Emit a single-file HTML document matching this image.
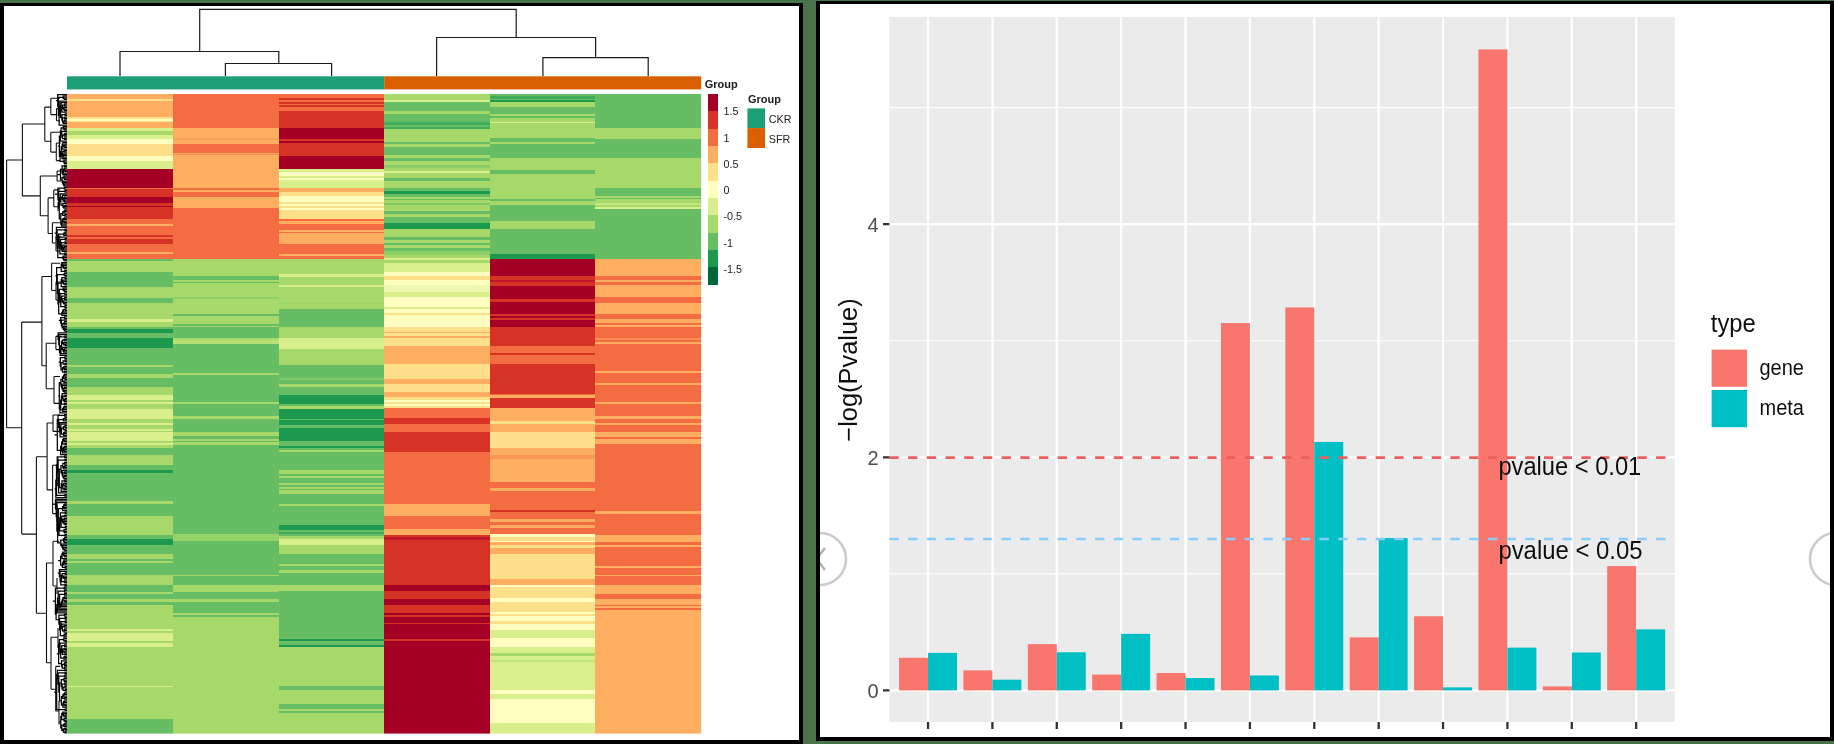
<!DOCTYPE html><html><head><meta charset="utf-8"><title>figure</title><style>html,body{margin:0;padding:0;background:#48734c;overflow:hidden}svg{display:block}text{font-family:"Liberation Sans",sans-serif}</style></head><body>
<svg width="1834" height="744" viewBox="0 0 1834 744">
<rect width="1834" height="744" fill="#48734c"/>
<defs><filter id="bl" filterUnits="userSpaceOnUse" x="-10" y="-10" width="1860" height="770"><feGaussianBlur stdDeviation="0.55"/></filter><clipPath id="lp"><rect x="4" y="6" width="795" height="734"/></clipPath><clipPath id="rp"><rect x="816" y="1" width="1018" height="740"/></clipPath></defs>
<rect x="0" y="3" width="803" height="741" fill="#000"/>
<rect x="4" y="6" width="795" height="734" fill="#fff"/>
<g clip-path="url(#lp)"><g filter="url(#bl)">
<rect x="-4" y="-4" width="812" height="752" fill="#fff"/>
<g fill="none" stroke="#1a1a1a" stroke-width="1.2">
<path d="M199.7 51.5V9.3H516.2V37.5"/>
<path d="M120 76.3V51.5H278.8V63.5"/>
<path d="M225.4 76.3V63.5H331.6V76.3"/>
<path d="M436.6 76.3V37.5H595.6V57.6"/>
<path d="M542.9 76.3V57.6H648.2V76.3"/>
</g>
<rect x="67" y="76.3" width="317.2" height="13.1" fill="#1b9e77"/>
<rect x="384.2" y="76.3" width="317" height="13.1" fill="#d95f02"/>
<g shape-rendering="crispEdges">
<rect x="67.0" y="93.80" width="106.6" height="5.00" fill="#fdae61"/>
<rect x="67.0" y="98.50" width="106.6" height="2.60" fill="#fee08b"/>
<rect x="67.0" y="100.80" width="106.6" height="16.50" fill="#fdae61"/>
<rect x="67.0" y="117.00" width="106.6" height="2.10" fill="#fee08b"/>
<rect x="67.0" y="118.80" width="106.6" height="2.10" fill="#ffffbf"/>
<rect x="67.0" y="120.60" width="106.6" height="2.10" fill="#fee08b"/>
<rect x="67.0" y="122.40" width="106.6" height="6.00" fill="#fdae61"/>
<rect x="67.0" y="128.10" width="106.6" height="2.70" fill="#d9ef8b"/>
<rect x="67.0" y="130.50" width="106.6" height="4.80" fill="#a6d96a"/>
<rect x="67.0" y="135.00" width="106.6" height="3.90" fill="#d9ef8b"/>
<rect x="67.0" y="138.60" width="106.6" height="5.70" fill="#ffffbf"/>
<rect x="67.0" y="144.00" width="106.6" height="12.00" fill="#fee08b"/>
<rect x="67.0" y="155.70" width="106.6" height="5.60" fill="#ffffbf"/>
<rect x="67.0" y="161.00" width="106.6" height="8.30" fill="#d9ef8b"/>
<rect x="67.0" y="169.00" width="106.6" height="18.80" fill="#a50026"/>
<rect x="67.0" y="187.50" width="106.6" height="2.10" fill="#f46d43"/>
<rect x="67.0" y="189.30" width="106.6" height="7.50" fill="#d73027"/>
<rect x="67.0" y="196.50" width="106.6" height="6.60" fill="#a50026"/>
<rect x="67.0" y="202.80" width="106.6" height="3.00" fill="#d73027"/>
<rect x="67.0" y="205.50" width="106.6" height="2.10" fill="#a50026"/>
<rect x="67.0" y="207.30" width="106.6" height="12.00" fill="#d73027"/>
<rect x="67.0" y="219.00" width="106.6" height="4.80" fill="#f46d43"/>
<rect x="67.0" y="223.50" width="106.6" height="3.00" fill="#fdae61"/>
<rect x="67.0" y="226.20" width="106.6" height="9.30" fill="#f46d43"/>
<rect x="67.0" y="235.20" width="106.6" height="2.10" fill="#d73027"/>
<rect x="67.0" y="237.00" width="106.6" height="2.40" fill="#f46d43"/>
<rect x="67.0" y="239.10" width="106.6" height="5.40" fill="#d73027"/>
<rect x="67.0" y="244.20" width="106.6" height="7.80" fill="#f46d43"/>
<rect x="67.0" y="251.70" width="106.6" height="3.00" fill="#fdae61"/>
<rect x="67.0" y="254.40" width="106.6" height="5.20" fill="#f46d43"/>
<rect x="67.0" y="259.30" width="106.6" height="2.30" fill="#66bd63"/>
<rect x="67.0" y="261.30" width="106.6" height="10.50" fill="#a6d96a"/>
<rect x="67.0" y="271.50" width="106.6" height="15.30" fill="#66bd63"/>
<rect x="67.0" y="286.50" width="106.6" height="11.40" fill="#a6d96a"/>
<rect x="67.0" y="297.60" width="106.6" height="5.40" fill="#66bd63"/>
<rect x="67.0" y="302.70" width="106.6" height="17.00" fill="#a6d96a"/>
<rect x="67.0" y="319.40" width="106.6" height="2.90" fill="#d9ef8b"/>
<rect x="67.0" y="322.00" width="106.6" height="5.60" fill="#a6d96a"/>
<rect x="67.0" y="327.30" width="106.6" height="2.10" fill="#66bd63"/>
<rect x="67.0" y="329.10" width="106.6" height="4.50" fill="#1a9850"/>
<rect x="67.0" y="333.30" width="106.6" height="4.80" fill="#66bd63"/>
<rect x="67.0" y="337.80" width="106.6" height="10.50" fill="#1a9850"/>
<rect x="67.0" y="348.00" width="106.6" height="16.80" fill="#66bd63"/>
<rect x="67.0" y="364.50" width="106.6" height="2.60" fill="#a6d96a"/>
<rect x="67.0" y="366.80" width="106.6" height="7.90" fill="#66bd63"/>
<rect x="67.0" y="374.40" width="106.6" height="3.90" fill="#a6d96a"/>
<rect x="67.0" y="378.00" width="106.6" height="9.30" fill="#66bd63"/>
<rect x="67.0" y="387.00" width="106.6" height="7.80" fill="#a6d96a"/>
<rect x="67.0" y="394.50" width="106.6" height="5.40" fill="#d9ef8b"/>
<rect x="67.0" y="399.60" width="106.6" height="2.40" fill="#a6d96a"/>
<rect x="67.0" y="401.70" width="106.6" height="2.60" fill="#d9ef8b"/>
<rect x="67.0" y="404.00" width="106.6" height="4.90" fill="#a6d96a"/>
<rect x="67.0" y="408.60" width="106.6" height="10.70" fill="#d9ef8b"/>
<rect x="67.0" y="419.00" width="106.6" height="4.30" fill="#a6d96a"/>
<rect x="67.0" y="423.00" width="106.6" height="2.40" fill="#d9ef8b"/>
<rect x="67.0" y="425.10" width="106.6" height="3.90" fill="#a6d96a"/>
<rect x="67.0" y="428.70" width="106.6" height="2.60" fill="#d9ef8b"/>
<rect x="67.0" y="431.00" width="106.6" height="1.60" fill="#a6d96a"/>
<rect x="67.0" y="432.30" width="106.6" height="9.00" fill="#d9ef8b"/>
<rect x="67.0" y="441.00" width="106.6" height="2.40" fill="#a6d96a"/>
<rect x="67.0" y="443.10" width="106.6" height="2.20" fill="#d9ef8b"/>
<rect x="67.0" y="445.00" width="106.6" height="3.50" fill="#a6d96a"/>
<rect x="67.0" y="448.20" width="106.6" height="7.50" fill="#66bd63"/>
<rect x="67.0" y="455.40" width="106.6" height="10.20" fill="#a6d96a"/>
<rect x="67.0" y="465.30" width="106.6" height="4.50" fill="#66bd63"/>
<rect x="67.0" y="469.50" width="106.6" height="3.90" fill="#1a9850"/>
<rect x="67.0" y="473.10" width="106.6" height="28.20" fill="#66bd63"/>
<rect x="67.0" y="501.00" width="106.6" height="3.50" fill="#a6d96a"/>
<rect x="67.0" y="504.20" width="106.6" height="12.40" fill="#66bd63"/>
<rect x="67.0" y="516.30" width="106.6" height="19.20" fill="#a6d96a"/>
<rect x="67.0" y="535.20" width="106.6" height="4.20" fill="#66bd63"/>
<rect x="67.0" y="539.10" width="106.6" height="5.70" fill="#1a9850"/>
<rect x="67.0" y="544.50" width="106.6" height="9.30" fill="#66bd63"/>
<rect x="67.0" y="553.50" width="106.6" height="5.40" fill="#a6d96a"/>
<rect x="67.0" y="558.60" width="106.6" height="2.60" fill="#66bd63"/>
<rect x="67.0" y="560.90" width="106.6" height="2.40" fill="#a6d96a"/>
<rect x="67.0" y="563.00" width="106.6" height="12.30" fill="#66bd63"/>
<rect x="67.0" y="575.00" width="106.6" height="10.60" fill="#a6d96a"/>
<rect x="67.0" y="585.30" width="106.6" height="6.60" fill="#66bd63"/>
<rect x="67.0" y="591.60" width="106.6" height="2.70" fill="#a6d96a"/>
<rect x="67.0" y="594.00" width="106.6" height="5.10" fill="#66bd63"/>
<rect x="67.0" y="598.80" width="106.6" height="3.50" fill="#a6d96a"/>
<rect x="67.0" y="602.00" width="106.6" height="3.00" fill="#66bd63"/>
<rect x="67.0" y="604.70" width="106.6" height="24.10" fill="#a6d96a"/>
<rect x="67.0" y="628.50" width="106.6" height="2.60" fill="#d9ef8b"/>
<rect x="67.0" y="630.80" width="106.6" height="2.80" fill="#a6d96a"/>
<rect x="67.0" y="633.30" width="106.6" height="8.00" fill="#d9ef8b"/>
<rect x="67.0" y="641.00" width="106.6" height="1.80" fill="#a6d96a"/>
<rect x="67.0" y="642.50" width="106.6" height="4.80" fill="#d9ef8b"/>
<rect x="67.0" y="647.00" width="106.6" height="39.00" fill="#a6d96a"/>
<rect x="67.0" y="685.70" width="106.6" height="1.90" fill="#d9ef8b"/>
<rect x="67.0" y="687.30" width="106.6" height="32.00" fill="#a6d96a"/>
<rect x="67.0" y="719.00" width="106.6" height="14.90" fill="#66bd63"/>
<rect x="173.3" y="93.80" width="105.8" height="34.30" fill="#f46d43"/>
<rect x="173.3" y="127.80" width="105.8" height="10.70" fill="#fdae61"/>
<rect x="173.3" y="138.20" width="105.8" height="1.60" fill="#f9a05a"/>
<rect x="173.3" y="139.50" width="105.8" height="4.80" fill="#fdae61"/>
<rect x="173.3" y="144.00" width="105.8" height="8.90" fill="#f46d43"/>
<rect x="173.3" y="152.60" width="105.8" height="1.20" fill="#fdae61"/>
<rect x="173.3" y="153.50" width="105.8" height="1.60" fill="#f88d52"/>
<rect x="173.3" y="154.80" width="105.8" height="33.00" fill="#fdae61"/>
<rect x="173.3" y="187.50" width="105.8" height="2.40" fill="#f46d43"/>
<rect x="173.3" y="189.60" width="105.8" height="2.70" fill="#fdae61"/>
<rect x="173.3" y="192.00" width="105.8" height="4.80" fill="#f46d43"/>
<rect x="173.3" y="196.50" width="105.8" height="12.00" fill="#fdae61"/>
<rect x="173.3" y="208.20" width="105.8" height="51.40" fill="#f46d43"/>
<rect x="173.3" y="259.30" width="105.8" height="16.70" fill="#a6d96a"/>
<rect x="173.3" y="275.70" width="105.8" height="4.80" fill="#66bd63"/>
<rect x="173.3" y="280.20" width="105.8" height="1.70" fill="#a6d96a"/>
<rect x="173.3" y="281.60" width="105.8" height="2.10" fill="#66bd63"/>
<rect x="173.3" y="283.40" width="105.8" height="14.20" fill="#a6d96a"/>
<rect x="173.3" y="297.30" width="105.8" height="1.50" fill="#8fcf66"/>
<rect x="173.3" y="298.50" width="105.8" height="15.30" fill="#a6d96a"/>
<rect x="173.3" y="313.50" width="105.8" height="3.00" fill="#66bd63"/>
<rect x="173.3" y="316.20" width="105.8" height="7.80" fill="#a6d96a"/>
<rect x="173.3" y="323.70" width="105.8" height="2.10" fill="#66bd63"/>
<rect x="173.3" y="325.50" width="105.8" height="2.10" fill="#a6d96a"/>
<rect x="173.3" y="327.30" width="105.8" height="11.10" fill="#66bd63"/>
<rect x="173.3" y="338.10" width="105.8" height="1.80" fill="#a6d96a"/>
<rect x="173.3" y="339.60" width="105.8" height="4.20" fill="#b8e077"/>
<rect x="173.3" y="343.50" width="105.8" height="29.80" fill="#66bd63"/>
<rect x="173.3" y="373.00" width="105.8" height="2.60" fill="#a6d96a"/>
<rect x="173.3" y="375.30" width="105.8" height="26.70" fill="#66bd63"/>
<rect x="173.3" y="401.70" width="105.8" height="2.60" fill="#a6d96a"/>
<rect x="173.3" y="404.00" width="105.8" height="12.40" fill="#66bd63"/>
<rect x="173.3" y="416.10" width="105.8" height="3.20" fill="#a6d96a"/>
<rect x="173.3" y="419.00" width="105.8" height="13.30" fill="#66bd63"/>
<rect x="173.3" y="432.00" width="105.8" height="3.90" fill="#a6d96a"/>
<rect x="173.3" y="435.60" width="105.8" height="3.90" fill="#66bd63"/>
<rect x="173.3" y="439.20" width="105.8" height="2.10" fill="#a6d96a"/>
<rect x="173.3" y="441.00" width="105.8" height="1.70" fill="#66bd63"/>
<rect x="173.3" y="442.40" width="105.8" height="2.50" fill="#a6d96a"/>
<rect x="173.3" y="444.60" width="105.8" height="90.00" fill="#66bd63"/>
<rect x="173.3" y="534.30" width="105.8" height="6.60" fill="#95d267"/>
<rect x="173.3" y="540.60" width="105.8" height="34.20" fill="#66bd63"/>
<rect x="173.3" y="574.50" width="105.8" height="2.10" fill="#a6d96a"/>
<rect x="173.3" y="576.30" width="105.8" height="9.30" fill="#66bd63"/>
<rect x="173.3" y="585.30" width="105.8" height="6.60" fill="#a6d96a"/>
<rect x="173.3" y="591.60" width="105.8" height="7.50" fill="#66bd63"/>
<rect x="173.3" y="598.80" width="105.8" height="3.50" fill="#a6d96a"/>
<rect x="173.3" y="602.00" width="105.8" height="11.50" fill="#66bd63"/>
<rect x="173.3" y="613.20" width="105.8" height="2.10" fill="#a6d96a"/>
<rect x="173.3" y="615.00" width="105.8" height="2.10" fill="#66bd63"/>
<rect x="173.3" y="616.80" width="105.8" height="117.10" fill="#a6d96a"/>
<rect x="278.8" y="93.80" width="105.7" height="4.60" fill="#f46d43"/>
<rect x="278.8" y="98.10" width="105.7" height="2.10" fill="#d73027"/>
<rect x="278.8" y="99.90" width="105.7" height="2.10" fill="#f46d43"/>
<rect x="278.8" y="101.70" width="105.7" height="2.10" fill="#d73027"/>
<rect x="278.8" y="103.50" width="105.7" height="2.10" fill="#f46d43"/>
<rect x="278.8" y="105.30" width="105.7" height="2.10" fill="#d73027"/>
<rect x="278.8" y="107.10" width="105.7" height="4.40" fill="#f46d43"/>
<rect x="278.8" y="111.20" width="105.7" height="17.20" fill="#d73027"/>
<rect x="278.8" y="128.10" width="105.7" height="11.10" fill="#a50026"/>
<rect x="278.8" y="138.90" width="105.7" height="2.70" fill="#d73027"/>
<rect x="278.8" y="141.30" width="105.7" height="2.40" fill="#a50026"/>
<rect x="278.8" y="143.40" width="105.7" height="12.60" fill="#d73027"/>
<rect x="278.8" y="155.70" width="105.7" height="13.60" fill="#a50026"/>
<rect x="278.8" y="169.00" width="105.7" height="3.50" fill="#d9ef8b"/>
<rect x="278.8" y="172.20" width="105.7" height="3.90" fill="#ffffbf"/>
<rect x="278.8" y="175.80" width="105.7" height="2.50" fill="#d9ef8b"/>
<rect x="278.8" y="178.00" width="105.7" height="2.60" fill="#ffffbf"/>
<rect x="278.8" y="180.30" width="105.7" height="7.50" fill="#d9ef8b"/>
<rect x="278.8" y="187.50" width="105.7" height="4.80" fill="#fdae61"/>
<rect x="278.8" y="192.00" width="105.7" height="3.90" fill="#fee08b"/>
<rect x="278.8" y="195.60" width="105.7" height="6.60" fill="#ffffbf"/>
<rect x="278.8" y="201.90" width="105.7" height="2.40" fill="#fee08b"/>
<rect x="278.8" y="204.00" width="105.7" height="2.30" fill="#ffffbf"/>
<rect x="278.8" y="206.00" width="105.7" height="2.30" fill="#fee08b"/>
<rect x="278.8" y="208.00" width="105.7" height="2.30" fill="#ffffbf"/>
<rect x="278.8" y="210.00" width="105.7" height="8.90" fill="#fee08b"/>
<rect x="278.8" y="218.60" width="105.7" height="2.50" fill="#f46d43"/>
<rect x="278.8" y="220.80" width="105.7" height="3.00" fill="#fdae61"/>
<rect x="278.8" y="223.50" width="105.7" height="6.60" fill="#f46d43"/>
<rect x="278.8" y="229.80" width="105.7" height="2.10" fill="#fdae61"/>
<rect x="278.8" y="231.60" width="105.7" height="1.70" fill="#f46d43"/>
<rect x="278.8" y="233.00" width="105.7" height="11.50" fill="#fdae61"/>
<rect x="278.8" y="244.20" width="105.7" height="10.50" fill="#f46d43"/>
<rect x="278.8" y="254.40" width="105.7" height="2.30" fill="#fdae61"/>
<rect x="278.8" y="256.40" width="105.7" height="3.20" fill="#f46d43"/>
<rect x="278.8" y="259.30" width="105.7" height="15.40" fill="#a6d96a"/>
<rect x="278.8" y="274.40" width="105.7" height="2.50" fill="#d9ef8b"/>
<rect x="278.8" y="276.60" width="105.7" height="8.90" fill="#a6d96a"/>
<rect x="278.8" y="285.20" width="105.7" height="2.10" fill="#d9ef8b"/>
<rect x="278.8" y="287.00" width="105.7" height="16.00" fill="#a6d96a"/>
<rect x="278.8" y="302.70" width="105.7" height="1.60" fill="#98d468"/>
<rect x="278.8" y="304.00" width="105.7" height="5.30" fill="#a6d96a"/>
<rect x="278.8" y="309.00" width="105.7" height="18.30" fill="#66bd63"/>
<rect x="278.8" y="327.00" width="105.7" height="11.10" fill="#a6d96a"/>
<rect x="278.8" y="337.80" width="105.7" height="11.10" fill="#d9ef8b"/>
<rect x="278.8" y="348.60" width="105.7" height="16.20" fill="#a6d96a"/>
<rect x="278.8" y="364.50" width="105.7" height="13.80" fill="#66bd63"/>
<rect x="278.8" y="378.00" width="105.7" height="2.10" fill="#80c965"/>
<rect x="278.8" y="379.80" width="105.7" height="4.80" fill="#66bd63"/>
<rect x="278.8" y="384.30" width="105.7" height="3.30" fill="#a6d96a"/>
<rect x="278.8" y="387.30" width="105.7" height="7.50" fill="#66bd63"/>
<rect x="278.8" y="394.50" width="105.7" height="9.30" fill="#1a9850"/>
<rect x="278.8" y="403.50" width="105.7" height="3.20" fill="#66bd63"/>
<rect x="278.8" y="406.40" width="105.7" height="2.50" fill="#a6d96a"/>
<rect x="278.8" y="408.60" width="105.7" height="10.20" fill="#1a9850"/>
<rect x="278.8" y="418.50" width="105.7" height="2.10" fill="#66bd63"/>
<rect x="278.8" y="420.30" width="105.7" height="4.80" fill="#1a9850"/>
<rect x="278.8" y="424.80" width="105.7" height="3.00" fill="#66bd63"/>
<rect x="278.8" y="427.50" width="105.7" height="13.80" fill="#1a9850"/>
<rect x="278.8" y="441.00" width="105.7" height="5.30" fill="#66bd63"/>
<rect x="278.8" y="446.00" width="105.7" height="2.50" fill="#1a9850"/>
<rect x="278.8" y="448.20" width="105.7" height="2.10" fill="#66bd63"/>
<rect x="278.8" y="450.00" width="105.7" height="2.10" fill="#a6d96a"/>
<rect x="278.8" y="451.80" width="105.7" height="18.50" fill="#66bd63"/>
<rect x="278.8" y="470.00" width="105.7" height="4.30" fill="#a6d96a"/>
<rect x="278.8" y="474.00" width="105.7" height="2.10" fill="#66bd63"/>
<rect x="278.8" y="475.80" width="105.7" height="2.50" fill="#a6d96a"/>
<rect x="278.8" y="478.00" width="105.7" height="4.90" fill="#66bd63"/>
<rect x="278.8" y="482.60" width="105.7" height="2.50" fill="#a6d96a"/>
<rect x="278.8" y="484.80" width="105.7" height="2.10" fill="#66bd63"/>
<rect x="278.8" y="486.60" width="105.7" height="2.40" fill="#a6d96a"/>
<rect x="278.8" y="488.70" width="105.7" height="1.80" fill="#66bd63"/>
<rect x="278.8" y="490.20" width="105.7" height="3.90" fill="#a6d96a"/>
<rect x="278.8" y="493.80" width="105.7" height="10.20" fill="#66bd63"/>
<rect x="278.8" y="503.70" width="105.7" height="2.60" fill="#a6d96a"/>
<rect x="278.8" y="506.00" width="105.7" height="19.60" fill="#66bd63"/>
<rect x="278.8" y="525.30" width="105.7" height="5.10" fill="#1a9850"/>
<rect x="278.8" y="530.10" width="105.7" height="2.20" fill="#66bd63"/>
<rect x="278.8" y="532.00" width="105.7" height="2.60" fill="#3fab5a"/>
<rect x="278.8" y="534.30" width="105.7" height="2.00" fill="#66bd63"/>
<rect x="278.8" y="536.00" width="105.7" height="3.40" fill="#a6d96a"/>
<rect x="278.8" y="539.10" width="105.7" height="6.20" fill="#d9ef8b"/>
<rect x="278.8" y="545.00" width="105.7" height="8.80" fill="#a6d96a"/>
<rect x="278.8" y="553.50" width="105.7" height="10.40" fill="#66bd63"/>
<rect x="278.8" y="563.60" width="105.7" height="2.80" fill="#a6d96a"/>
<rect x="278.8" y="566.10" width="105.7" height="4.50" fill="#66bd63"/>
<rect x="278.8" y="570.30" width="105.7" height="3.00" fill="#a6d96a"/>
<rect x="278.8" y="573.00" width="105.7" height="12.60" fill="#66bd63"/>
<rect x="278.8" y="585.30" width="105.7" height="6.20" fill="#a6d96a"/>
<rect x="278.8" y="591.20" width="105.7" height="48.00" fill="#66bd63"/>
<rect x="278.8" y="638.90" width="105.7" height="2.40" fill="#1a9850"/>
<rect x="278.8" y="641.00" width="105.7" height="4.00" fill="#66bd63"/>
<rect x="278.8" y="644.70" width="105.7" height="2.60" fill="#1a9850"/>
<rect x="278.8" y="647.00" width="105.7" height="39.30" fill="#a6d96a"/>
<rect x="278.8" y="686.00" width="105.7" height="4.50" fill="#66bd63"/>
<rect x="278.8" y="690.20" width="105.7" height="14.10" fill="#a6d96a"/>
<rect x="278.8" y="704.00" width="105.7" height="5.30" fill="#66bd63"/>
<rect x="278.8" y="709.00" width="105.7" height="2.60" fill="#a6d96a"/>
<rect x="278.8" y="711.30" width="105.7" height="2.00" fill="#66bd63"/>
<rect x="278.8" y="713.00" width="105.7" height="20.90" fill="#a6d96a"/>
<rect x="384.2" y="93.80" width="106.2" height="6.40" fill="#a6d96a"/>
<rect x="384.2" y="99.90" width="106.2" height="2.60" fill="#d9ef8b"/>
<rect x="384.2" y="102.20" width="106.2" height="9.30" fill="#66bd63"/>
<rect x="384.2" y="111.20" width="106.2" height="3.00" fill="#a6d96a"/>
<rect x="384.2" y="113.90" width="106.2" height="7.90" fill="#66bd63"/>
<rect x="384.2" y="121.50" width="106.2" height="3.30" fill="#3fab5a"/>
<rect x="384.2" y="124.50" width="106.2" height="2.70" fill="#66bd63"/>
<rect x="384.2" y="126.90" width="106.2" height="2.60" fill="#3fab5a"/>
<rect x="384.2" y="129.20" width="106.2" height="13.30" fill="#a6d96a"/>
<rect x="384.2" y="142.20" width="106.2" height="2.10" fill="#66bd63"/>
<rect x="384.2" y="144.00" width="106.2" height="3.50" fill="#a6d96a"/>
<rect x="384.2" y="147.20" width="106.2" height="7.90" fill="#66bd63"/>
<rect x="384.2" y="154.80" width="106.2" height="3.00" fill="#a6d96a"/>
<rect x="384.2" y="157.50" width="106.2" height="3.30" fill="#66bd63"/>
<rect x="384.2" y="160.50" width="106.2" height="4.50" fill="#a6d96a"/>
<rect x="384.2" y="164.70" width="106.2" height="3.90" fill="#8ccd66"/>
<rect x="384.2" y="168.30" width="106.2" height="3.00" fill="#a6d96a"/>
<rect x="384.2" y="171.00" width="106.2" height="2.40" fill="#d9ef8b"/>
<rect x="384.2" y="173.10" width="106.2" height="5.40" fill="#a6d96a"/>
<rect x="384.2" y="178.20" width="106.2" height="3.50" fill="#66bd63"/>
<rect x="384.2" y="181.40" width="106.2" height="6.90" fill="#a6d96a"/>
<rect x="384.2" y="188.00" width="106.2" height="3.10" fill="#66bd63"/>
<rect x="384.2" y="190.80" width="106.2" height="3.90" fill="#1a9850"/>
<rect x="384.2" y="194.40" width="106.2" height="2.70" fill="#66bd63"/>
<rect x="384.2" y="196.80" width="106.2" height="2.10" fill="#a6d96a"/>
<rect x="384.2" y="198.60" width="106.2" height="2.10" fill="#66bd63"/>
<rect x="384.2" y="200.40" width="106.2" height="2.90" fill="#a6d96a"/>
<rect x="384.2" y="203.00" width="106.2" height="2.70" fill="#80c965"/>
<rect x="384.2" y="205.40" width="106.2" height="6.10" fill="#a6d96a"/>
<rect x="384.2" y="211.20" width="106.2" height="3.50" fill="#66bd63"/>
<rect x="384.2" y="214.40" width="106.2" height="2.50" fill="#a6d96a"/>
<rect x="384.2" y="216.60" width="106.2" height="6.70" fill="#66bd63"/>
<rect x="384.2" y="223.00" width="106.2" height="6.50" fill="#1a9850"/>
<rect x="384.2" y="229.20" width="106.2" height="8.40" fill="#a6d96a"/>
<rect x="384.2" y="237.30" width="106.2" height="2.60" fill="#66bd63"/>
<rect x="384.2" y="239.60" width="106.2" height="3.40" fill="#a6d96a"/>
<rect x="384.2" y="242.70" width="106.2" height="2.10" fill="#66bd63"/>
<rect x="384.2" y="244.50" width="106.2" height="3.80" fill="#a6d96a"/>
<rect x="384.2" y="248.00" width="106.2" height="3.10" fill="#66bd63"/>
<rect x="384.2" y="250.80" width="106.2" height="4.80" fill="#8ccd66"/>
<rect x="384.2" y="255.30" width="106.2" height="3.00" fill="#a6d96a"/>
<rect x="384.2" y="258.00" width="106.2" height="2.40" fill="#d9ef8b"/>
<rect x="384.2" y="260.10" width="106.2" height="3.60" fill="#a6d96a"/>
<rect x="384.2" y="263.40" width="106.2" height="8.40" fill="#d9ef8b"/>
<rect x="384.2" y="271.50" width="106.2" height="4.80" fill="#ffffbf"/>
<rect x="384.2" y="276.00" width="106.2" height="3.90" fill="#fee08b"/>
<rect x="384.2" y="279.60" width="106.2" height="5.70" fill="#ffffbf"/>
<rect x="384.2" y="285.00" width="106.2" height="7.50" fill="#f0f7b0"/>
<rect x="384.2" y="292.20" width="106.2" height="4.80" fill="#d9ef8b"/>
<rect x="384.2" y="296.70" width="106.2" height="10.80" fill="#ffffbf"/>
<rect x="384.2" y="307.20" width="106.2" height="2.10" fill="#d9ef8b"/>
<rect x="384.2" y="309.00" width="106.2" height="4.30" fill="#ffffbf"/>
<rect x="384.2" y="313.00" width="106.2" height="2.10" fill="#fee08b"/>
<rect x="384.2" y="314.80" width="106.2" height="12.80" fill="#ffffbf"/>
<rect x="384.2" y="327.30" width="106.2" height="4.50" fill="#fee08b"/>
<rect x="384.2" y="331.50" width="106.2" height="2.10" fill="#fdae61"/>
<rect x="384.2" y="333.30" width="106.2" height="3.00" fill="#fee08b"/>
<rect x="384.2" y="336.00" width="106.2" height="2.40" fill="#fdae61"/>
<rect x="384.2" y="338.10" width="106.2" height="8.60" fill="#fee08b"/>
<rect x="384.2" y="346.40" width="106.2" height="18.30" fill="#fdae61"/>
<rect x="384.2" y="364.40" width="106.2" height="15.10" fill="#fee08b"/>
<rect x="384.2" y="379.20" width="106.2" height="5.30" fill="#fdae61"/>
<rect x="384.2" y="384.20" width="106.2" height="7.90" fill="#fee08b"/>
<rect x="384.2" y="391.80" width="106.2" height="5.70" fill="#fdae61"/>
<rect x="384.2" y="397.20" width="106.2" height="3.10" fill="#fee08b"/>
<rect x="384.2" y="400.00" width="106.2" height="2.00" fill="#ffffbf"/>
<rect x="384.2" y="401.70" width="106.2" height="3.00" fill="#fee08b"/>
<rect x="384.2" y="404.40" width="106.2" height="1.90" fill="#ffffbf"/>
<rect x="384.2" y="406.00" width="106.2" height="2.50" fill="#fee08b"/>
<rect x="384.2" y="408.20" width="106.2" height="10.10" fill="#f46d43"/>
<rect x="384.2" y="418.00" width="106.2" height="6.70" fill="#d73027"/>
<rect x="384.2" y="424.40" width="106.2" height="7.90" fill="#f46d43"/>
<rect x="384.2" y="432.00" width="106.2" height="20.40" fill="#d73027"/>
<rect x="384.2" y="452.10" width="106.2" height="51.80" fill="#f46d43"/>
<rect x="384.2" y="503.60" width="106.2" height="13.00" fill="#fdae61"/>
<rect x="384.2" y="516.30" width="106.2" height="12.90" fill="#f46d43"/>
<rect x="384.2" y="528.90" width="106.2" height="6.20" fill="#fdae61"/>
<rect x="384.2" y="534.80" width="106.2" height="2.50" fill="#d73027"/>
<rect x="384.2" y="537.00" width="106.2" height="3.00" fill="#c0182a"/>
<rect x="384.2" y="539.70" width="106.2" height="45.80" fill="#d73027"/>
<rect x="384.2" y="585.20" width="106.2" height="6.10" fill="#a50026"/>
<rect x="384.2" y="591.00" width="106.2" height="7.80" fill="#d73027"/>
<rect x="384.2" y="598.50" width="106.2" height="6.30" fill="#a50026"/>
<rect x="384.2" y="604.50" width="106.2" height="8.40" fill="#d73027"/>
<rect x="384.2" y="612.60" width="106.2" height="2.40" fill="#a50026"/>
<rect x="384.2" y="614.70" width="106.2" height="2.10" fill="#d73027"/>
<rect x="384.2" y="616.50" width="106.2" height="6.60" fill="#a50026"/>
<rect x="384.2" y="622.80" width="106.2" height="1.70" fill="#d73027"/>
<rect x="384.2" y="624.20" width="106.2" height="15.10" fill="#a50026"/>
<rect x="384.2" y="639.00" width="106.2" height="2.10" fill="#d73027"/>
<rect x="384.2" y="640.80" width="106.2" height="93.10" fill="#a50026"/>
<rect x="490.1" y="93.80" width="105.4" height="2.80" fill="#66bd63"/>
<rect x="490.1" y="96.30" width="105.4" height="2.60" fill="#3fab5a"/>
<rect x="490.1" y="98.60" width="105.4" height="1.60" fill="#66bd63"/>
<rect x="490.1" y="99.90" width="105.4" height="2.60" fill="#1a9850"/>
<rect x="490.1" y="102.20" width="105.4" height="4.70" fill="#a6d96a"/>
<rect x="490.1" y="106.60" width="105.4" height="7.60" fill="#66bd63"/>
<rect x="490.1" y="113.90" width="105.4" height="2.40" fill="#a6d96a"/>
<rect x="490.1" y="116.00" width="105.4" height="2.20" fill="#66bd63"/>
<rect x="490.1" y="117.90" width="105.4" height="3.90" fill="#a6d96a"/>
<rect x="490.1" y="121.50" width="105.4" height="2.10" fill="#d9ef8b"/>
<rect x="490.1" y="123.30" width="105.4" height="14.70" fill="#a6d96a"/>
<rect x="490.1" y="137.70" width="105.4" height="4.80" fill="#66bd63"/>
<rect x="490.1" y="142.20" width="105.4" height="2.10" fill="#a6d96a"/>
<rect x="490.1" y="144.00" width="105.4" height="13.80" fill="#66bd63"/>
<rect x="490.1" y="157.50" width="105.4" height="12.30" fill="#a6d96a"/>
<rect x="490.1" y="169.50" width="105.4" height="5.00" fill="#66bd63"/>
<rect x="490.1" y="174.20" width="105.4" height="25.40" fill="#a6d96a"/>
<rect x="490.1" y="199.30" width="105.4" height="2.30" fill="#66bd63"/>
<rect x="490.1" y="201.30" width="105.4" height="4.40" fill="#a6d96a"/>
<rect x="490.1" y="205.40" width="105.4" height="16.00" fill="#66bd63"/>
<rect x="490.1" y="221.10" width="105.4" height="8.40" fill="#a6d96a"/>
<rect x="490.1" y="229.20" width="105.4" height="25.50" fill="#66bd63"/>
<rect x="490.1" y="254.40" width="105.4" height="5.30" fill="#1a9850"/>
<rect x="490.1" y="259.40" width="105.4" height="16.90" fill="#a50026"/>
<rect x="490.1" y="276.00" width="105.4" height="4.30" fill="#d73027"/>
<rect x="490.1" y="280.00" width="105.4" height="2.60" fill="#c0182a"/>
<rect x="490.1" y="282.30" width="105.4" height="3.50" fill="#d73027"/>
<rect x="490.1" y="285.50" width="105.4" height="14.20" fill="#a50026"/>
<rect x="490.1" y="299.40" width="105.4" height="2.70" fill="#d73027"/>
<rect x="490.1" y="301.80" width="105.4" height="12.00" fill="#a50026"/>
<rect x="490.1" y="313.50" width="105.4" height="2.60" fill="#d73027"/>
<rect x="490.1" y="315.80" width="105.4" height="2.50" fill="#a50026"/>
<rect x="490.1" y="318.00" width="105.4" height="2.50" fill="#d73027"/>
<rect x="490.1" y="320.20" width="105.4" height="7.10" fill="#a50026"/>
<rect x="490.1" y="327.00" width="105.4" height="19.70" fill="#d73027"/>
<rect x="490.1" y="346.40" width="105.4" height="6.90" fill="#f46d43"/>
<rect x="490.1" y="353.00" width="105.4" height="2.70" fill="#d73027"/>
<rect x="490.1" y="355.40" width="105.4" height="9.30" fill="#f46d43"/>
<rect x="490.1" y="364.40" width="105.4" height="29.90" fill="#d73027"/>
<rect x="490.1" y="394.00" width="105.4" height="1.70" fill="#f46d43"/>
<rect x="490.1" y="395.40" width="105.4" height="2.40" fill="#fdae61"/>
<rect x="490.1" y="397.50" width="105.4" height="11.00" fill="#d73027"/>
<rect x="490.1" y="408.20" width="105.4" height="13.30" fill="#fdae61"/>
<rect x="490.1" y="421.20" width="105.4" height="3.00" fill="#fee08b"/>
<rect x="490.1" y="423.90" width="105.4" height="8.40" fill="#fdae61"/>
<rect x="490.1" y="432.00" width="105.4" height="16.10" fill="#fee08b"/>
<rect x="490.1" y="447.80" width="105.4" height="7.50" fill="#fdae61"/>
<rect x="490.1" y="455.00" width="105.4" height="3.90" fill="#f99858"/>
<rect x="490.1" y="458.60" width="105.4" height="23.20" fill="#fdae61"/>
<rect x="490.1" y="481.50" width="105.4" height="6.90" fill="#f46d43"/>
<rect x="490.1" y="488.10" width="105.4" height="3.20" fill="#fdae61"/>
<rect x="490.1" y="491.00" width="105.4" height="19.00" fill="#f46d43"/>
<rect x="490.1" y="509.70" width="105.4" height="2.60" fill="#d73027"/>
<rect x="490.1" y="512.00" width="105.4" height="7.30" fill="#f46d43"/>
<rect x="490.1" y="519.00" width="105.4" height="3.50" fill="#fdae61"/>
<rect x="490.1" y="522.20" width="105.4" height="3.40" fill="#f46d43"/>
<rect x="490.1" y="525.30" width="105.4" height="2.60" fill="#fdae61"/>
<rect x="490.1" y="527.60" width="105.4" height="7.00" fill="#f46d43"/>
<rect x="490.1" y="534.30" width="105.4" height="2.50" fill="#ffffbf"/>
<rect x="490.1" y="536.50" width="105.4" height="4.40" fill="#fee08b"/>
<rect x="490.1" y="540.60" width="105.4" height="2.10" fill="#ffffbf"/>
<rect x="490.1" y="542.40" width="105.4" height="3.00" fill="#fdae61"/>
<rect x="490.1" y="545.10" width="105.4" height="3.00" fill="#fee08b"/>
<rect x="490.1" y="547.80" width="105.4" height="6.00" fill="#fdae61"/>
<rect x="490.1" y="553.50" width="105.4" height="26.10" fill="#fee08b"/>
<rect x="490.1" y="579.30" width="105.4" height="5.70" fill="#fdae61"/>
<rect x="490.1" y="584.70" width="105.4" height="3.00" fill="#ffffbf"/>
<rect x="490.1" y="587.40" width="105.4" height="11.10" fill="#fee08b"/>
<rect x="490.1" y="598.20" width="105.4" height="3.90" fill="#ffffbf"/>
<rect x="490.1" y="601.80" width="105.4" height="10.50" fill="#fee08b"/>
<rect x="490.1" y="612.00" width="105.4" height="2.10" fill="#ffffbf"/>
<rect x="490.1" y="613.80" width="105.4" height="2.50" fill="#fee08b"/>
<rect x="490.1" y="616.00" width="105.4" height="5.30" fill="#ffffbf"/>
<rect x="490.1" y="621.00" width="105.4" height="3.00" fill="#fee08b"/>
<rect x="490.1" y="623.70" width="105.4" height="6.60" fill="#ffffbf"/>
<rect x="490.1" y="630.00" width="105.4" height="7.80" fill="#d9ef8b"/>
<rect x="490.1" y="637.50" width="105.4" height="9.80" fill="#ffffbf"/>
<rect x="490.1" y="647.00" width="105.4" height="5.80" fill="#d9ef8b"/>
<rect x="490.1" y="652.50" width="105.4" height="3.80" fill="#a6d96a"/>
<rect x="490.1" y="656.00" width="105.4" height="4.00" fill="#d9ef8b"/>
<rect x="490.1" y="659.70" width="105.4" height="2.60" fill="#bfe47a"/>
<rect x="490.1" y="662.00" width="105.4" height="28.60" fill="#d9ef8b"/>
<rect x="490.1" y="690.30" width="105.4" height="3.90" fill="#ffffbf"/>
<rect x="490.1" y="693.90" width="105.4" height="5.70" fill="#d9ef8b"/>
<rect x="490.1" y="699.30" width="105.4" height="24.20" fill="#ffffbf"/>
<rect x="490.1" y="723.20" width="105.4" height="10.70" fill="#d9ef8b"/>
<rect x="595.2" y="93.80" width="106.3" height="34.60" fill="#66bd63"/>
<rect x="595.2" y="128.10" width="106.3" height="11.10" fill="#a6d96a"/>
<rect x="595.2" y="138.90" width="106.3" height="18.90" fill="#66bd63"/>
<rect x="595.2" y="157.50" width="106.3" height="30.30" fill="#a6d96a"/>
<rect x="595.2" y="187.50" width="106.3" height="9.00" fill="#66bd63"/>
<rect x="595.2" y="196.20" width="106.3" height="1.80" fill="#a6d96a"/>
<rect x="595.2" y="197.70" width="106.3" height="1.20" fill="#66bd63"/>
<rect x="595.2" y="198.60" width="106.3" height="4.70" fill="#a6d96a"/>
<rect x="595.2" y="203.00" width="106.3" height="2.70" fill="#c5e67e"/>
<rect x="595.2" y="205.40" width="106.3" height="2.10" fill="#a6d96a"/>
<rect x="595.2" y="207.20" width="106.3" height="2.10" fill="#d9ef8b"/>
<rect x="595.2" y="209.00" width="106.3" height="50.70" fill="#66bd63"/>
<rect x="595.2" y="259.40" width="106.3" height="16.90" fill="#fdae61"/>
<rect x="595.2" y="276.00" width="106.3" height="4.30" fill="#f46d43"/>
<rect x="595.2" y="280.00" width="106.3" height="2.00" fill="#fdae61"/>
<rect x="595.2" y="281.70" width="106.3" height="3.60" fill="#f46d43"/>
<rect x="595.2" y="285.00" width="106.3" height="12.00" fill="#fdae61"/>
<rect x="595.2" y="296.70" width="106.3" height="6.20" fill="#f46d43"/>
<rect x="595.2" y="302.60" width="106.3" height="11.20" fill="#fdae61"/>
<rect x="595.2" y="313.50" width="106.3" height="6.20" fill="#f46d43"/>
<rect x="595.2" y="319.40" width="106.3" height="4.30" fill="#fdae61"/>
<rect x="595.2" y="323.40" width="106.3" height="2.10" fill="#f46d43"/>
<rect x="595.2" y="325.20" width="106.3" height="2.40" fill="#fdae61"/>
<rect x="595.2" y="327.30" width="106.3" height="10.80" fill="#f46d43"/>
<rect x="595.2" y="337.80" width="106.3" height="2.10" fill="#f98d55"/>
<rect x="595.2" y="339.60" width="106.3" height="2.40" fill="#f46d43"/>
<rect x="595.2" y="341.70" width="106.3" height="2.60" fill="#fdae61"/>
<rect x="595.2" y="344.00" width="106.3" height="27.30" fill="#f46d43"/>
<rect x="595.2" y="371.00" width="106.3" height="1.80" fill="#fdae61"/>
<rect x="595.2" y="372.50" width="106.3" height="10.60" fill="#f46d43"/>
<rect x="595.2" y="382.80" width="106.3" height="2.10" fill="#fdae61"/>
<rect x="595.2" y="384.60" width="106.3" height="17.40" fill="#f46d43"/>
<rect x="595.2" y="401.70" width="106.3" height="2.60" fill="#fdae61"/>
<rect x="595.2" y="404.00" width="106.3" height="12.50" fill="#f46d43"/>
<rect x="595.2" y="416.20" width="106.3" height="2.60" fill="#fdae61"/>
<rect x="595.2" y="418.50" width="106.3" height="4.40" fill="#f46d43"/>
<rect x="595.2" y="422.60" width="106.3" height="2.50" fill="#fdae61"/>
<rect x="595.2" y="424.80" width="106.3" height="7.50" fill="#f46d43"/>
<rect x="595.2" y="432.00" width="106.3" height="5.30" fill="#fdae61"/>
<rect x="595.2" y="437.00" width="106.3" height="2.10" fill="#f46d43"/>
<rect x="595.2" y="438.80" width="106.3" height="5.20" fill="#fdae61"/>
<rect x="595.2" y="443.70" width="106.3" height="67.80" fill="#f46d43"/>
<rect x="595.2" y="511.20" width="106.3" height="2.70" fill="#fdae61"/>
<rect x="595.2" y="513.60" width="106.3" height="21.50" fill="#f46d43"/>
<rect x="595.2" y="534.80" width="106.3" height="7.90" fill="#fdae61"/>
<rect x="595.2" y="542.40" width="106.3" height="3.00" fill="#f46d43"/>
<rect x="595.2" y="545.10" width="106.3" height="2.10" fill="#fdae61"/>
<rect x="595.2" y="546.90" width="106.3" height="19.20" fill="#f46d43"/>
<rect x="595.2" y="565.80" width="106.3" height="2.50" fill="#fdae61"/>
<rect x="595.2" y="568.00" width="106.3" height="7.10" fill="#f46d43"/>
<rect x="595.2" y="574.80" width="106.3" height="1.70" fill="#fdae61"/>
<rect x="595.2" y="576.20" width="106.3" height="9.30" fill="#f46d43"/>
<rect x="595.2" y="585.20" width="106.3" height="9.30" fill="#fdae61"/>
<rect x="595.2" y="594.20" width="106.3" height="4.60" fill="#f46d43"/>
<rect x="595.2" y="598.50" width="106.3" height="6.30" fill="#fdae61"/>
<rect x="595.2" y="604.50" width="106.3" height="2.10" fill="#f46d43"/>
<rect x="595.2" y="606.30" width="106.3" height="2.00" fill="#fdae61"/>
<rect x="595.2" y="608.00" width="106.3" height="1.80" fill="#f46d43"/>
<rect x="595.2" y="609.50" width="106.3" height="124.40" fill="#fdae61"/>
</g>
<rect x="701.2" y="90" width="6" height="650" fill="#fff"/>
<rect x="60" y="733.6" width="660" height="6.4" fill="#fff"/>
<path d="M6.6 160.0V427.8M6.6 160.0H22.4M6.6 427.8H21.7M22.4 124.0V195.9M22.4 124.0H44.8M44.8 107.1V141.2M44.8 107.1H50.8M50.8 98.3V114.6M50.8 98.3H60.0M50.8 114.6H56.5M56.5 108.6V120.7M56.5 108.6H61.0M56.5 120.7H60.0M44.8 141.2H50.8M50.8 132.2V152.1M50.8 132.2H60.0M50.8 152.1H56.3M56.3 143.0V160.6M56.3 143.0H61.0M56.3 160.6H60.0M22.4 195.9H40.3M40.3 176.0V215.8M40.3 176.0H57.1M57.1 171.0V181.0M57.1 171.0H61.0M57.1 181.0H61.0M40.3 215.8H48.1M48.1 197.9V233.5M48.1 197.9H53.8M53.8 189.9V206.7M53.8 189.9H60.0M53.8 206.7H58.0M58.0 202.0V211.0M48.1 233.5H52.4M52.4 222.8V243.0M52.4 222.8H60.0M52.4 243.0H56.0M56.0 236.2V251.0M56.0 236.2H61.0M56.0 251.0H60.0M21.7 322.1V534.1M21.7 322.1H41.9M41.9 276.5V365.8M41.9 276.5H51.6M51.6 263.2V290.5M51.6 263.2H60.0M51.6 290.5H56.0M56.0 282.0V300.0M56.0 282.0H61.0M56.0 300.0H60.0M41.9 365.8H46.2M46.2 343.2V388.8M46.2 343.2H55.9M55.9 336.3V349.6M55.9 336.3H61.0M55.9 349.6H60.0M46.2 388.8H54.0M54.0 376.5V403.4M54.0 376.5H60.0M54.0 403.4H59.0M21.7 534.1H36.4M36.4 456.8V613.2M36.4 456.8H47.1M47.1 423.0V489.9M47.1 423.0H53.0M53.0 415.0V431.4M53.0 415.0H60.0M53.0 431.4H59.0M47.1 489.9H52.6M52.6 465.2V513.6M52.6 465.2H58.0M52.6 513.6H57.0M58.0 458.0V472.0M57.0 505.0V522.0M36.4 613.2H46.5M46.5 563.0V662.7M46.5 563.0H53.0M53.0 541.3V586.0M53.0 541.3H59.0M53.0 586.0H57.0M57.0 578.0V594.0M46.5 662.7H51.0M51.0 637.2V689.2M51.0 637.2H58.0M58.0 628.0V648.0M51.0 689.2H55.7M55.7 666.4V711.0M55.7 666.4H60.0M55.7 711.0H59.0M59.0 701.0V724.6" fill="none" stroke="#111" stroke-width="1.1"/>
<path d="M67.0 97.8H64.6V99.4H67.0M67.0 96.2H63.3V98.6H64.6M67.0 104.2H64.6V105.8H67.0M67.0 109.0H64.8V110.6H67.0M67.0 107.4H63.8V109.8H64.8M64.6 105.0H62.6V108.6H63.8M62.6 106.8H61.9V112.2H67.0M67.0 102.6H61.2V109.5H61.9M67.0 113.8H65.2V115.4H67.0M67.0 117.0H64.7V118.6H67.0M67.0 120.2H64.7V121.8H67.0M64.7 121.0H63.3V123.4H67.0M64.7 117.8H62.6V122.2H63.3M65.2 114.6H61.9V120.0H62.6M61.2 106.0H60.5V117.3H61.9M67.0 101.0H59.8V111.7H60.5M59.8 106.3H59.1V125.0H67.0M63.3 97.4H58.4V115.7H59.1M67.0 94.6H57.7V106.5H58.4M57.7 100.6H56.0M67.0 128.2H64.8V129.8H67.0M67.0 126.6H63.3V129.0H64.8M67.0 133.0H65.2V134.6H67.0M65.2 133.8H64.3V136.2H67.0M67.0 137.8H64.7V139.4H67.0M64.3 135.0H62.5V138.6H64.7M67.0 131.4H61.8V136.8H62.5M63.3 127.8H61.1V134.1H61.8M61.1 130.9H60.4V141.0H67.0M67.0 144.2H65.0V145.8H67.0M65.0 145.0H64.1V147.4H67.0M67.0 142.6H62.9V146.2H64.1M62.9 144.4H62.2V149.0H67.0M67.0 150.6H64.3V152.2H67.0M67.0 153.8H64.1V155.4H67.0M64.1 154.6H63.4V157.0H67.0M64.3 151.4H62.7V155.8H63.4M62.7 153.6H62.0V158.6H67.0M62.2 146.7H61.3V156.1H62.0M67.0 161.8H64.5V163.4H67.0M67.0 160.2H63.8V162.6H64.5M61.3 151.4H60.1V161.4H63.8M60.4 136.0H59.4V156.4H60.1M59.4 146.2H57.8M67.0 165.0H64.8V166.6H67.0M67.0 169.8H65.2V171.4H67.0M67.0 168.2H64.2V170.6H65.2M64.2 169.4H63.5V173.0H67.0M63.5 171.2H62.8V174.6H67.0M64.8 165.8H62.1V172.9H62.8M67.0 177.8H64.6V179.4H67.0M67.0 176.2H63.9V178.6H64.6M67.0 184.2H64.2V185.8H67.0M67.0 182.6H63.5V185.0H64.2M67.0 181.0H62.8V183.8H63.5M63.9 177.4H62.1V182.4H62.8M62.1 169.3H60.5V179.9H62.1M60.5 174.6H57.5M67.0 187.4H64.4V189.0H67.0M67.0 190.6H65.1V192.2H67.0M67.0 197.0H64.4V198.6H67.0M67.0 200.2H64.5V201.8H67.0M64.4 197.8H63.1V201.0H64.5M67.0 195.4H62.4V199.4H63.1M67.0 205.0H65.1V206.6H67.0M65.1 205.8H63.8V208.2H67.0M67.0 203.4H62.9V207.0H63.8M62.4 197.4H60.9V205.2H62.9M67.0 193.8H60.2V201.3H60.9M67.0 209.8H65.0V211.4H67.0M65.0 210.6H64.2V213.0H67.0M67.0 214.6H64.9V216.2H67.0M64.2 211.8H62.7V215.4H64.9M67.0 217.8H64.3V219.4H67.0M67.0 221.0H64.2V222.6H67.0M64.3 218.6H62.9V221.8H64.2M62.9 220.2H62.2V224.2H67.0M62.2 222.2H61.5V225.8H67.0M62.7 213.6H60.8V224.0H61.5M60.2 197.5H59.3V218.8H60.8M65.1 191.4H58.6V208.1H59.3M64.4 188.2H57.9V199.8H58.6M57.9 194.0H54.9M67.0 229.0H65.1V230.6H67.0M67.0 232.2H65.1V233.8H67.0M65.1 233.0H63.8V235.4H67.0M67.0 238.6H65.3V240.2H67.0M67.0 241.8H65.0V243.4H67.0M67.0 246.6H64.5V248.2H67.0M64.5 247.4H63.4V249.8H67.0M67.0 245.0H62.7V248.6H63.4M62.7 246.8H62.0V251.4H67.0M65.0 242.6H61.3V249.1H62.0M65.3 239.4H60.6V245.8H61.3M67.0 253.0H64.7V254.5H67.0M60.6 242.6H59.9V253.8H64.7M67.0 237.0H59.2V248.2H59.9M63.8 234.2H58.5V242.6H59.2M67.0 259.3H65.1V260.9H67.0M67.0 257.7H63.7V260.1H65.1M67.0 256.1H63.0V258.9H63.7M58.5 238.4H57.8V257.5H63.0M65.1 229.8H57.1V248.0H57.8M67.0 227.4H56.4V238.9H57.1M56.4 233.1H54.5M67.0 267.3H64.9V268.9H67.0M67.0 265.7H63.3V268.1H64.9M67.0 264.1H62.6V266.9H63.3M67.0 262.5H61.9V265.5H62.6M67.0 270.5H64.8V272.1H67.0M61.9 264.0H61.2V271.3H64.8M67.0 273.7H64.2V275.3H67.0M67.0 276.9H65.2V278.5H67.0M67.0 283.3H65.1V284.9H67.0M67.0 281.7H63.4V284.1H65.1M67.0 280.1H62.6V282.9H63.4M65.2 277.7H61.9V281.5H62.6M61.9 279.6H61.2V286.5H67.0M67.0 289.7H64.5V291.3H67.0M67.0 288.1H63.2V290.5H64.5M67.0 292.9H64.9V294.5H67.0M67.0 297.7H64.7V299.3H67.0M67.0 302.5H64.1V304.1H67.0M67.0 300.9H63.4V303.3H64.1M64.7 298.5H62.2V302.1H63.4M67.0 296.1H61.5V300.3H62.2M67.0 305.7H65.0V307.3H67.0M61.5 298.2H60.8V306.5H65.0M64.9 293.7H60.1V302.4H60.8M63.2 289.3H59.4V298.1H60.1M67.0 308.9H65.1V310.5H67.0M65.1 309.7H63.3V312.1H67.0M63.3 310.9H62.6V313.7H67.0M62.6 312.3H61.9V315.3H67.0M59.4 293.7H58.7V313.8H61.9M61.2 283.1H58.0V303.8H58.7M64.2 274.5H57.3V293.4H58.0M61.2 267.7H56.6V284.0H57.3M56.6 275.8H55.4M67.0 316.9H64.6V318.5H67.0M67.0 321.7H64.6V323.3H67.0M64.6 322.5H63.9V324.9H67.0M67.0 329.7H65.2V331.3H67.0M67.0 328.1H64.2V330.5H65.2M67.0 326.5H63.4V329.3H64.2M63.9 323.7H62.2V327.9H63.4M67.0 320.1H61.4V325.8H62.2M64.6 317.7H60.7V323.0H61.4M60.7 320.4H58.7M67.0 336.1H65.0V337.7H67.0M67.0 339.3H64.1V340.9H67.0M67.0 344.1H65.3V345.7H67.0M67.0 342.5H63.7V344.9H65.3M64.1 340.1H62.3V343.7H63.7M67.0 348.9H64.6V350.5H67.0M64.6 349.7H63.6V352.1H67.0M67.0 347.3H62.9V350.9H63.6M62.3 341.9H61.6V349.1H62.9M61.6 345.5H60.9V353.7H67.0M60.9 349.6H60.2V355.3H67.0M65.0 336.9H59.5V352.5H60.2M67.0 334.5H58.8V344.7H59.5M67.0 332.9H58.1V339.6H58.8M58.1 336.3H56.4M67.0 356.9H64.9V358.5H67.0M67.0 360.1H65.2V361.7H67.0M67.0 363.3H65.1V364.9H67.0M65.2 360.9H63.1V364.1H65.1M67.0 368.1H64.6V369.7H67.0M67.0 366.5H63.8V368.9H64.6M67.0 371.3H64.5V372.9H67.0M63.8 367.7H62.5V372.1H64.5M63.1 362.5H61.0V369.9H62.5M64.9 357.7H60.3V366.2H61.0M60.3 362.0H58.6M67.0 374.5H64.3V376.1H67.0M67.0 377.7H65.2V379.3H67.0M64.3 375.3H63.6V378.5H65.2M67.0 380.9H64.1V382.5H67.0M63.6 376.9H62.5V381.7H64.1M67.0 387.3H64.5V388.9H67.0M67.0 390.5H64.4V392.1H67.0M64.5 388.1H63.2V391.3H64.4M67.0 385.7H62.3V389.7H63.2M67.0 384.1H61.6V387.7H62.3M62.5 379.3H60.9V385.9H61.6M67.0 395.3H65.0V396.9H67.0M67.0 398.5H65.3V400.1H67.0M65.3 399.3H64.3V401.7H67.0M65.0 396.1H63.0V400.5H64.3M67.0 393.7H62.1V398.3H63.0M67.0 403.3H64.5V404.9H67.0M62.1 396.0H61.4V404.1H64.5M67.0 406.5H64.1V408.1H67.0M64.1 407.3H63.4V409.7H67.0M63.4 408.5H62.7V411.3H67.0M61.4 400.1H60.7V409.9H62.7M60.7 405.0H60.0V412.9H67.0M60.9 382.6H59.3V408.9H60.0M59.3 395.8H58.2M67.0 414.5H64.6V416.1H67.0M67.0 417.7H65.1V419.3H67.0M65.1 418.5H63.4V420.9H67.0M67.0 425.7H64.9V427.3H67.0M67.0 428.9H65.2V430.5H67.0M64.9 426.5H63.4V429.7H65.2M67.0 432.1H64.3V433.7H67.0M64.3 432.9H63.6V435.3H67.0M63.4 428.1H61.5V434.1H63.6M67.0 424.1H60.8V431.1H61.5M60.8 427.6H60.1V436.9H67.0M67.0 422.5H59.4V432.2H60.1M63.4 419.7H58.7V427.4H59.4M64.6 415.3H58.0V423.5H58.7M67.0 440.1H64.1V441.7H67.0M67.0 438.5H63.4V440.9H64.1M67.0 443.3H65.1V444.9H67.0M63.4 439.7H62.7V444.1H65.1M67.0 446.5H64.4V448.1H67.0M67.0 449.7H64.2V451.3H67.0M64.4 447.3H63.3V450.5H64.2M63.3 448.9H62.6V452.9H67.0M62.7 441.9H61.7V450.9H62.6M61.7 446.4H60.6V454.5H67.0M58.0 419.4H57.3V450.4H60.6M57.3 434.9H54.5M67.0 456.1H64.7V457.7H67.0M67.0 459.3H65.1V460.9H67.0M67.0 462.5H64.6V464.1H67.0M67.0 465.7H64.9V467.3H67.0M64.9 466.5H63.5V468.9H67.0M64.6 463.3H62.8V467.7H63.5M67.0 472.1H64.8V473.7H67.0M67.0 475.3H64.7V476.9H67.0M64.7 476.1H63.7V478.5H67.0M64.8 472.9H62.9V477.3H63.7M67.0 470.5H62.1V475.1H62.9M62.8 465.5H61.0V472.8H62.1M67.0 480.1H64.8V481.7H67.0M67.0 484.9H65.3V486.5H67.0M67.0 483.3H63.6V485.7H65.3M67.0 488.1H64.1V489.7H67.0M63.6 484.5H62.7V488.9H64.1M64.8 480.9H62.0V486.7H62.7M62.0 483.8H61.2V491.3H67.0M61.0 469.1H59.3V487.5H61.2M59.3 478.3H58.6V492.9H67.0M65.1 460.1H57.9V485.6H58.6M64.7 456.9H57.2V472.8H57.9M67.0 494.5H65.0V496.1H67.0M57.2 464.9H56.5V495.3H65.0M56.5 480.1H55.8V497.7H67.0M55.8 488.9H54.6M67.0 504.1H64.8V505.7H67.0M67.0 507.3H64.4V508.9H67.0M64.8 504.9H63.7V508.1H64.4M63.7 506.5H62.7V510.5H67.0M67.0 512.1H65.3V513.7H67.0M67.0 515.3H64.2V516.9H67.0M67.0 518.5H64.2V520.1H67.0M67.0 523.3H65.3V524.9H67.0M67.0 521.7H64.0V524.1H65.3M64.2 519.3H62.8V522.9H64.0M64.2 516.1H61.8V521.1H62.8M67.0 526.5H65.3V528.1H67.0M61.8 518.6H61.1V527.3H65.3M65.3 512.9H60.4V522.9H61.1M67.0 531.3H64.7V532.9H67.0M67.0 529.7H64.0V532.1H64.7M60.4 517.9H59.7V530.9H64.0M67.0 534.5H65.0V536.1H67.0M59.7 524.4H59.0V535.3H65.0M62.7 508.5H58.3V529.8H59.0M67.0 537.7H64.7V539.3H67.0M67.0 540.9H64.2V542.5H67.0M64.7 538.5H63.5V541.7H64.2M67.0 548.9H64.8V550.5H67.0M67.0 547.3H63.3V549.7H64.8M67.0 545.7H62.6V548.5H63.3M67.0 544.1H61.9V547.1H62.6M63.5 540.1H60.8V545.6H61.9M58.3 519.1H57.6V542.8H60.8M67.0 502.5H56.9V531.0H57.6M67.0 500.9H56.2V516.7H56.9M67.0 499.3H55.5V508.8H56.2M55.5 504.0H53.0M67.0 555.3H65.0V556.9H67.0M67.0 553.7H64.0V556.1H65.0M67.0 552.1H62.7V554.9H64.0M62.7 553.5H62.0V558.5H67.0M67.0 561.7H64.7V563.3H67.0M67.0 560.1H63.9V562.5H64.7M63.9 561.3H63.2V564.9H67.0M67.0 566.5H65.3V568.1H67.0M63.2 563.1H62.4V567.3H65.3M62.0 556.0H60.6V565.2H62.4M60.6 560.6H58.1M67.0 572.9H65.3V574.4H67.0M67.0 577.6H64.7V579.2H67.0M67.0 576.0H63.3V578.4H64.7M65.3 573.7H62.2V577.2H63.3M67.0 580.8H64.4V582.4H67.0M62.2 575.4H61.5V581.6H64.4M67.0 584.0H65.1V585.6H67.0M61.5 578.5H60.8V584.8H65.1M67.0 571.3H60.1V581.7H60.8M67.0 569.7H59.4V576.5H60.1M59.4 573.1H57.8M67.0 587.2H64.3V588.8H67.0M67.0 590.4H64.6V592.0H67.0M67.0 593.6H64.6V595.2H67.0M67.0 596.8H64.4V598.4H67.0M67.0 600.0H64.9V601.6H67.0M64.4 597.6H63.1V600.8H64.9M63.1 599.2H62.4V603.2H67.0M62.4 601.2H61.7V604.8H67.0M61.7 603.0H61.0V606.4H67.0M61.0 604.7H60.3V608.0H67.0M64.6 594.4H59.6V606.4H60.3M59.6 600.4H58.9V609.6H67.0M64.6 591.2H58.2V605.0H58.9M58.2 598.1H57.5V611.2H67.0M57.5 604.7H56.8V612.8H67.0M67.0 614.4H64.5V616.0H67.0M67.0 617.6H65.2V619.2H67.0M67.0 620.8H65.3V622.4H67.0M67.0 625.6H64.2V627.2H67.0M67.0 628.8H64.8V630.4H67.0M64.8 629.6H64.1V632.0H67.0M64.2 626.4H62.4V630.8H64.1M67.0 624.0H61.7V628.6H62.4M65.3 621.6H61.0V626.3H61.7M67.0 633.6H65.3V635.2H67.0M65.3 634.4H64.0V636.8H67.0M61.0 624.0H60.3V635.6H64.0M65.2 618.4H59.6V629.8H60.3M64.5 615.2H58.9V624.1H59.6M56.8 608.8H56.1V619.7H58.9M64.3 588.0H55.4V614.2H56.1M55.4 601.1H52.8M67.0 640.0H65.3V641.6H67.0M67.0 638.4H63.8V640.8H65.3M67.0 644.8H64.5V646.4H67.0M67.0 648.0H64.8V649.6H67.0M67.0 651.2H64.9V652.8H67.0M64.8 648.8H63.1V652.0H64.9M63.1 650.4H62.4V654.4H67.0M64.5 645.6H61.7V652.4H62.4M67.0 656.0H64.8V657.6H67.0M64.8 656.8H63.9V659.2H67.0M61.7 649.0H60.7V658.0H63.9M67.0 643.2H60.0V653.5H60.7M63.8 639.6H59.3V648.4H60.0M67.0 662.4H65.1V664.0H67.0M65.1 663.2H64.4V665.6H67.0M67.0 667.2H64.5V668.8H67.0M64.4 664.4H62.2V668.0H64.5M67.0 660.8H61.5V666.2H62.2M59.3 644.0H58.6V663.5H61.5M58.6 653.8H56.8M67.0 672.0H65.1V673.6H67.0M67.0 675.2H64.9V676.8H67.0M67.0 680.0H64.6V681.6H67.0M67.0 678.4H63.9V680.8H64.6M67.0 683.2H64.8V684.8H67.0M67.0 686.4H65.1V688.0H67.0M67.0 689.6H65.3V691.2H67.0M65.1 687.2H63.1V690.4H65.3M64.8 684.0H62.0V688.8H63.1M63.9 679.6H61.3V686.4H62.0M67.0 692.8H64.6V694.4H67.0M64.6 693.6H63.9V696.0H67.0M67.0 697.6H64.8V699.2H67.0M63.9 694.8H62.8V698.4H64.8M67.0 700.8H64.3V702.4H67.0M67.0 704.0H64.8V705.6H67.0M64.3 701.6H63.6V704.8H64.8M63.6 703.2H62.9V707.2H67.0M62.8 696.6H61.4V705.2H62.9M61.3 683.0H59.5V700.9H61.4M64.9 676.0H58.8V692.0H59.5M65.1 672.8H58.1V684.0H58.8M67.0 670.4H57.4V678.4H58.1M67.0 708.8H65.2V710.4H67.0M57.4 674.4H56.7V709.6H65.2M56.7 692.0H54.1M67.0 715.2H65.1V716.8H67.0M67.0 713.6H63.4V716.0H65.1M67.0 712.0H62.7V714.8H63.4M67.0 720.0H65.2V721.6H67.0M67.0 718.4H64.0V720.8H65.2M62.7 713.4H61.7V719.6H64.0M67.0 723.2H65.1V724.8H67.0M65.1 724.0H63.8V726.4H67.0M67.0 728.0H64.9V729.6H67.0M67.0 731.2H65.1V732.8H67.0M64.9 728.8H63.3V732.0H65.1M63.8 725.2H61.8V730.4H63.3M61.7 716.5H60.8V727.8H61.8M60.8 722.2H59.1" fill="none" stroke="#000" stroke-width="1.25"/>
<text transform="translate(704.8 87.9) scale(1 1.07)" font-size="11" font-weight="bold" fill="#1a1a1a">Group</text>
<rect x="707.7" y="94.10" width="10.1" height="17.63" fill="#a50026" shape-rendering="crispEdges"/>
<rect x="707.7" y="111.43" width="10.1" height="17.63" fill="#d73027" shape-rendering="crispEdges"/>
<rect x="707.7" y="128.75" width="10.1" height="17.63" fill="#f46d43" shape-rendering="crispEdges"/>
<rect x="707.7" y="146.08" width="10.1" height="17.63" fill="#fdae61" shape-rendering="crispEdges"/>
<rect x="707.7" y="163.41" width="10.1" height="17.63" fill="#fee08b" shape-rendering="crispEdges"/>
<rect x="707.7" y="180.74" width="10.1" height="17.63" fill="#ffffbf" shape-rendering="crispEdges"/>
<rect x="707.7" y="198.06" width="10.1" height="17.63" fill="#d9ef8b" shape-rendering="crispEdges"/>
<rect x="707.7" y="215.39" width="10.1" height="17.63" fill="#a6d96a" shape-rendering="crispEdges"/>
<rect x="707.7" y="232.72" width="10.1" height="17.63" fill="#66bd63" shape-rendering="crispEdges"/>
<rect x="707.7" y="250.05" width="10.1" height="17.63" fill="#1a9850" shape-rendering="crispEdges"/>
<rect x="707.7" y="267.37" width="10.1" height="17.63" fill="#006837" shape-rendering="crispEdges"/>
<text transform="translate(723.4 115.2) scale(1 1.07)" font-size="10.8" fill="#222">1.5</text>
<text transform="translate(723.4 141.7) scale(1 1.07)" font-size="10.8" fill="#222">1</text>
<text transform="translate(723.4 168.0) scale(1 1.07)" font-size="10.8" fill="#222">0.5</text>
<text transform="translate(723.4 194.4) scale(1 1.07)" font-size="10.8" fill="#222">0</text>
<text transform="translate(723.4 220.4) scale(1 1.07)" font-size="10.8" fill="#222">-0.5</text>
<text transform="translate(723.4 246.7) scale(1 1.07)" font-size="10.8" fill="#222">-1</text>
<text transform="translate(723.4 273.0) scale(1 1.07)" font-size="10.8" fill="#222">-1.5</text>
<text transform="translate(748 103) scale(1 1.07)" font-size="11" font-weight="bold" fill="#1a1a1a">Group</text>
<rect x="747.4" y="108.4" width="17.7" height="19.8" fill="#1b9e77"/>
<rect x="747.4" y="128.1" width="17.7" height="19.9" fill="#d95f02"/>
<text transform="translate(768.8 122.9) scale(1 1.07)" font-size="10.8" fill="#222">CKR</text>
<text transform="translate(768.8 143.3) scale(1 1.07)" font-size="10.8" fill="#222">SFR</text>
</g></g>
<rect x="816" y="1" width="1018" height="740" fill="#fff"/>
<g clip-path="url(#rp)"><g filter="url(#bl)">
<rect x="806" y="-9" width="1040" height="760" fill="#fff"/>
<g clip-path="url(#rp)" fill="#fff" stroke="#cbcbcb" stroke-width="2.6"><circle cx="820" cy="559" r="26"/><circle cx="1836" cy="559" r="26"/></g>
<path d="M825 548L816.5 559L825 570" fill="none" stroke="#b0b0b0" stroke-width="2.4"/>
<rect x="889.4" y="17.0" width="785.4" height="705.0" fill="#ebebeb"/>
<path d="M889.4 573.85H1674.8M889.4 340.75H1674.8M889.4 107.65H1674.8" stroke="#fff" stroke-width="1.2" fill="none"/>
<path d="M889.4 690.40H1674.8M889.4 457.30H1674.8M889.4 224.20H1674.8M928.03 17.0V722.0M992.40 17.0V722.0M1056.78 17.0V722.0M1121.16 17.0V722.0M1185.53 17.0V722.0M1249.91 17.0V722.0M1314.29 17.0V722.0M1378.67 17.0V722.0M1443.04 17.0V722.0M1507.42 17.0V722.0M1571.80 17.0V722.0M1636.17 17.0V722.0" stroke="#fff" stroke-width="2.3" fill="none"/>
<rect x="899.06" y="657.77" width="28.97" height="32.63" fill="#f8766d"/>
<rect x="928.03" y="652.87" width="28.97" height="37.53" fill="#00bfc4"/>
<rect x="963.43" y="670.35" width="28.97" height="20.05" fill="#f8766d"/>
<rect x="992.40" y="679.68" width="28.97" height="10.72" fill="#00bfc4"/>
<rect x="1027.81" y="644.13" width="28.97" height="46.27" fill="#f8766d"/>
<rect x="1056.78" y="652.29" width="28.97" height="38.11" fill="#00bfc4"/>
<rect x="1092.19" y="674.55" width="28.97" height="15.85" fill="#f8766d"/>
<rect x="1121.16" y="633.87" width="28.97" height="56.53" fill="#00bfc4"/>
<rect x="1156.56" y="673.03" width="28.97" height="17.37" fill="#f8766d"/>
<rect x="1185.53" y="678.05" width="28.97" height="12.35" fill="#00bfc4"/>
<rect x="1220.94" y="323.03" width="28.97" height="367.37" fill="#f8766d"/>
<rect x="1249.91" y="675.48" width="28.97" height="14.92" fill="#00bfc4"/>
<rect x="1285.32" y="307.42" width="28.97" height="382.98" fill="#f8766d"/>
<rect x="1314.29" y="441.92" width="28.97" height="248.48" fill="#00bfc4"/>
<rect x="1349.70" y="637.37" width="28.97" height="53.03" fill="#f8766d"/>
<rect x="1378.67" y="538.07" width="28.97" height="152.33" fill="#00bfc4"/>
<rect x="1414.07" y="616.27" width="28.97" height="74.13" fill="#f8766d"/>
<rect x="1443.04" y="687.37" width="28.97" height="3.03" fill="#00bfc4"/>
<rect x="1478.45" y="49.38" width="28.97" height="641.02" fill="#f8766d"/>
<rect x="1507.42" y="647.63" width="28.97" height="42.77" fill="#00bfc4"/>
<rect x="1542.83" y="686.44" width="28.97" height="3.96" fill="#f8766d"/>
<rect x="1571.80" y="652.52" width="28.97" height="37.88" fill="#00bfc4"/>
<rect x="1607.20" y="566.04" width="28.97" height="124.36" fill="#f8766d"/>
<rect x="1636.17" y="629.33" width="28.97" height="61.07" fill="#00bfc4"/>
<path d="M889.4 457.6H1674.8" stroke="#ec5f5f" stroke-width="2.6" stroke-dasharray="9.35 9.35" fill="none"/>
<path d="M889.4 539.0H1674.8" stroke="#87cefa" stroke-width="2.6" stroke-dasharray="9.35 9.35" fill="none"/>
<text transform="translate(1498.4 475.4) scale(1 1.06)" font-size="23.7" fill="#111">pvalue &lt; 0.01</text>
<text transform="translate(1498.4 559.2) scale(1 1.06)" font-size="23.9" fill="#111">pvalue &lt; 0.05</text>
<path d="M883 690.40H889.4M883 457.30H889.4M883 224.20H889.4M928.03 722.0V729M992.40 722.0V729M1056.78 722.0V729M1121.16 722.0V729M1185.53 722.0V729M1249.91 722.0V729M1314.29 722.0V729M1378.67 722.0V729M1443.04 722.0V729M1507.42 722.0V729M1571.80 722.0V729M1636.17 722.0V729" stroke="#333" stroke-width="2.3" fill="none"/>
<text transform="translate(878.6 697.9) scale(1 1.05)" font-size="20" text-anchor="end" fill="#4d4d4d">0</text>
<text transform="translate(878.6 464.8) scale(1 1.05)" font-size="20" text-anchor="end" fill="#4d4d4d">2</text>
<text transform="translate(878.6 231.7) scale(1 1.05)" font-size="20" text-anchor="end" fill="#4d4d4d">4</text>
<text transform="translate(856.5 370) rotate(-90)" font-size="25.4" text-anchor="middle" fill="#111">−log(Pvalue)</text>
<text transform="translate(1710.8 331.5) scale(1 1.06)" font-size="23.8" fill="#111">type</text>
<rect x="1711.6" y="349.6" width="35.5" height="37.2" fill="#f8766d"/>
<rect x="1711.6" y="390" width="35.5" height="37.2" fill="#00bfc4"/>
<text transform="translate(1759.5 375.1) scale(1 1.06)" font-size="20" fill="#111">gene</text>
<text transform="translate(1759.5 415.3) scale(1 1.06)" font-size="20" fill="#111">meta</text>
</g></g>
<rect x="803" y="0" width="13" height="744" fill="#48734c"/>
<path d="M816 1H1834V741H816Z M820 4V737H1830V4Z" fill="#000" fill-rule="evenodd"/>
</svg></body></html>
